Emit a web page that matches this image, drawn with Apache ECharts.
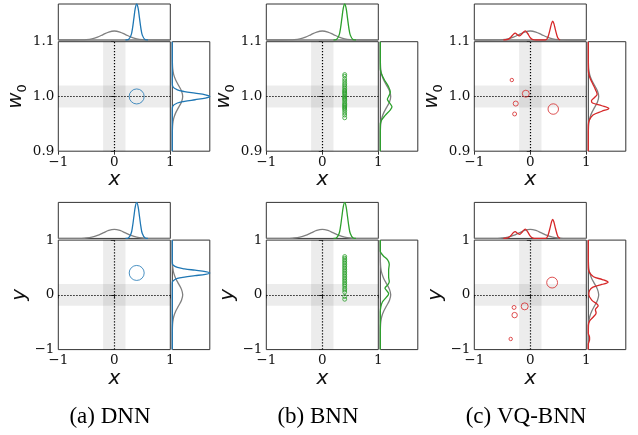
<!DOCTYPE html>
<html><head><meta charset="utf-8">
<script src="https://cdn.jsdelivr.net/npm/echarts@6/dist/echarts.min.js"></script>
<style>html,body{margin:0;padding:0;background:#fff}#c{width:638px;height:435px}</style>
</head><body><div id="c"></div><script>
// ---------- data ----------
const captions = ['(a) DNN', '(b) BNN', '(c) VQ-BNN'];
const rowNames = ['{w|w}{s|0}', '{w|y}'];
const xTickLabels = ['−1', '0', '1'];
const w0TickLabels = ['0.9', '1.0', '1.1'];
const yTickLabels = ['−1', '0', '1'];

// DNN points
const dnnX = [0.4];
const dnnW0 = [1.0];
const dnnY = [0.4];

// BNN samples (all at x = 0.4)
const bnnX = [0.4];
const bnnW0 = [1.040,1.037,1.032,1.028,1.024,1.021,1.018,1.015,1.012,1.010,1.008,1.006,1.004,1.001,0.999,0.997,0.995,0.993,0.990,0.987,0.985,0.983,0.981,0.979,0.977,0.974,0.970,0.966,0.961];
const bnnY = [0.70,0.67,0.64,0.61,0.58,0.55,0.52,0.49,0.46,0.43,0.40,0.37,0.34,0.31,0.28,0.25,0.22,0.19,0.16,0.12,0.09,0.05,-0.03,-0.08];

// VQ-BNN weighted points
const vqX1 = [-0.33, -0.08, -0.26, -0.28, 0.41];
const vqW0 = [1.030, 1.005, 0.987, 0.968, 0.977];
const vqWeight1 = [0.06, 0.25, 0.13, 0.08, 0.56];
const vqX2 = [0.39, -0.10, -0.29, -0.28, -0.35];
const vqY = [0.224, -0.21, -0.23, -0.37, -0.806];
const vqWeight2 = [0.6, 0.25, 0.08, 0.15, 0.06];

// marginal densities: [value, density]
const priorTop = [[-1,0],[-0.7,0.002],[-0.6,0.011],[-0.5,0.044],[-0.4,0.135],[-0.3,0.325],[-0.2,0.607],[-0.1,0.882],[0,1],[0.1,0.882],[0.2,0.607],[0.3,0.325],[0.4,0.135],[0.5,0.044],[0.6,0.011],[0.7,0.002],[1,0]];
const dnnTop = [[0.2,0],[0.25,0.044],[0.3,0.54],[0.325,1.3],[0.35,2.43],[0.375,3.53],[0.4,4.0],[0.425,3.53],[0.45,2.43],[0.475,1.3],[0.5,0.54],[0.55,0.044],[0.6,0]];
const bnnTop = [[0.2,0],[0.25,0.044],[0.3,0.54],[0.325,1.3],[0.35,2.43],[0.375,3.53],[0.4,4.0],[0.425,3.53],[0.45,2.43],[0.475,1.3],[0.5,0.54],[0.55,0.044],[0.6,0]];
const vqTop = [[-0.48,0],[-0.4,0.06],[-0.35,0.3],[-0.3,0.65],[-0.27,0.76],[-0.23,0.58],[-0.19,0.45],[-0.14,0.75],[-0.09,1.02],[-0.05,0.75],[0,0.25],[0.05,0.03],[0.1,0],[0.27,0],[0.31,0.25],[0.35,1.1],[0.38,1.85],[0.4,2.1],[0.42,1.85],[0.45,1.1],[0.49,0.25],[0.53,0]];

// right marginals, [density, value]
const priorW0 = [[0,0.9],[0.002,0.93],[0.011,0.94],[0.044,0.95],[0.135,0.96],[0.325,0.97],[0.607,0.98],[0.882,0.99],[1,1.0],[0.882,1.01],[0.607,1.02],[0.325,1.03],[0.135,1.04],[0.044,1.05],[0.011,1.06],[0.002,1.07],[0,1.1]];
const dnnW0Dens = [[0,0.9],[0,0.975],[0.04,0.982],[0.49,0.988],[1.17,0.991],[2.18,0.994],[3.18,0.997],[3.6,1.0],[3.18,1.003],[2.18,1.006],[1.17,1.009],[0.49,1.012],[0.04,1.018],[0,1.025],[0,1.1]];
const bnnW0Dens = [[0,0.9],[0,0.948],[0.1,0.956],[0.45,0.965],[0.95,0.975],[1.12,0.981],[0.9,0.988],[0.68,0.995],[0.8,1.0],[0.96,1.008],[0.78,1.018],[0.4,1.03],[0.1,1.042],[0,1.05],[0,1.1]];
const vqW0Dens = [[0,0.9],[0,0.948],[0.08,0.956],[0.45,0.966],[1.3,0.973],[1.97,0.978],[1.3,0.983],[0.4,0.988],[0.3,0.992],[0.6,0.998],[0.85,1.004],[0.7,1.012],[0.4,1.024],[0.12,1.036],[0,1.048],[0,1.1]];
const priorY = [[0,-1],[0.002,-0.7],[0.011,-0.6],[0.044,-0.5],[0.135,-0.4],[0.325,-0.3],[0.607,-0.2],[0.882,-0.1],[1,0],[0.882,0.1],[0.607,0.2],[0.325,0.3],[0.135,0.4],[0.044,0.5],[0.011,0.6],[0.002,0.7],[0,1]];
const dnnYDens = [[0,-1],[0,0.22],[0.04,0.25],[0.49,0.3],[1.17,0.325],[2.18,0.35],[3.18,0.375],[3.6,0.4],[3.18,0.425],[2.18,0.45],[1.17,0.475],[0.49,0.5],[0.04,0.55],[0,0.58],[0,1]];
const bnnYDens = [[0,-1],[0,-0.32],[0.05,-0.22],[0.2,-0.13],[0.55,-0.05],[0.8,0.02],[0.6,0.08],[0.45,0.12],[0.7,0.18],[0.86,0.24],[0.8,0.33],[0.8,0.45],[0.86,0.56],[0.7,0.64],[0.3,0.71],[0.05,0.77],[0,0.8],[0,1]];
const vqYDens = [[0,-1],[0,-0.9],[0.12,-0.82],[0.12,-0.78],[0,-0.7],[0,-0.56],[0.12,-0.48],[0.5,-0.4],[0.75,-0.33],[0.68,-0.27],[0.95,-0.2],[0.35,-0.1],[0.05,0.0],[0.12,0.08],[0.45,0.14],[1.3,0.19],[1.9,0.23],[1.35,0.28],[0.5,0.33],[0.08,0.42],[0,0.5],[0,1]];

// ---------- layout / style ----------
const COL = {dnn:'#1f77b4', bnn:'#2ca02c', vq:'#d62728', prior:'#808080'};
const L0 = 58.3, DX = 208, T0 = 41.7, DY = 198.4, MW = 112, MH = 109.5;
const TH = 36, TG = 1.7, RG = 2, RW = 37.5;
const TOPMAX = 4, RIGHTMAX = 3.6;
const SPINE = '#333';
const TICKFONT = '"DejaVu Serif", serif';
const LABELFONT = '"DejaVu Sans", sans-serif';

const grid = [], xAxis = [], yAxis = [], series = [], graphic = [];
const hiddenAxis = {axisLine:{show:false}, axisTick:{show:false}, axisLabel:{show:false}, splitLine:{show:false}};

function zip(xs, ys) {
  return ys.map((v, i) => [xs.length === 1 ? xs[0] : xs[i], v]);
}

const nameRich = {
  w:{fontFamily:LABELFONT, fontStyle:'italic', fontSize:20, color:'#111', lineHeight:22},
  s:{fontFamily:LABELFONT, fontSize:13, color:'#111', verticalAlign:'bottom', lineHeight:22, padding:[0,0,-2,0]}
};

function addPanel(col, row, color, pts, weights, topDens, rightDens) {
  const left = L0 + DX * col, top = T0 + DY * row;
  const gi = grid.length;
  const gStyle = {show:true, borderColor:SPINE, borderWidth:1, backgroundColor:'transparent', containLabel:false};
  grid.push(Object.assign({left, top, width:MW, height:MH}, gStyle));
  grid.push(Object.assign({left, top:top - TG - TH, width:MW, height:TH}, gStyle));
  grid.push(Object.assign({left:left + MW + RG, top, width:RW, height:MH}, gStyle));

  const yr = row === 0 ? {min:0.9, max:1.1, interval:0.1, labels:w0TickLabels, center:1.0, band:0.02}
                       : {min:-1, max:1, interval:1, labels:yTickLabels, center:0, band:0.2};

  // main axes
  xAxis.push({gridIndex:gi, type:'value', min:-1, max:1, interval:1,
    axisLine:{show:false}, splitLine:{show:false},
    axisTick:{show:true, length:3.5, lineStyle:{color:SPINE, width:1}},
    axisLabel:{fontFamily:TICKFONT, fontSize:13.5, color:'#111', margin:4,
      formatter:(v) => xTickLabels[Math.round(v) + 1]},
    name:'x', nameLocation:'middle', nameGap:18,
    nameTextStyle:{fontFamily:LABELFONT, fontStyle:'italic', fontSize:20, color:'#111'}});
  yAxis.push({gridIndex:gi, type:'value', min:yr.min, max:yr.max, interval:yr.interval,
    axisLine:{show:false}, splitLine:{show:false},
    axisTick:{show:true, length:3.5, lineStyle:{color:SPINE, width:1}},
    axisLabel:{fontFamily:TICKFONT, fontSize:13.5, color:'#111', margin:4,
      formatter:(v) => yr.labels[Math.round((v - yr.min) / yr.interval)]},
    name:rowNames[row], nameLocation:'middle', nameGap:28, nameRotate:90,
    nameTextStyle:{rich:nameRich}});
  // top marginal axes
  xAxis.push(Object.assign({gridIndex:gi + 1, type:'value', min:-1, max:1}, hiddenAxis));
  yAxis.push(Object.assign({gridIndex:gi + 1, type:'value', min:0, max:TOPMAX}, hiddenAxis));
  // right marginal axes
  xAxis.push(Object.assign({gridIndex:gi + 2, type:'value', min:0, max:RIGHTMAX}, hiddenAxis));
  yAxis.push(Object.assign({gridIndex:gi + 2, type:'value', min:yr.min, max:yr.max}, hiddenAxis));

  // bands + dotted lines
  series.push({type:'line', xAxisIndex:gi, yAxisIndex:gi, data:[], silent:true,
    markArea:{silent:true, itemStyle:{color:'rgba(0,0,0,0.075)'},
      data:[[{xAxis:-0.2},{xAxis:0.2}], [{yAxis:yr.center - yr.band},{yAxis:yr.center + yr.band}]]},
    markLine:{silent:true, symbol:'none', label:{show:false},
      lineStyle:{color:'#000', type:[1.3,1.7], width:1.2},
      data:[{xAxis:0},{yAxis:yr.center}]}});
  // points
  series.push({type:'scatter', xAxisIndex:gi, yAxisIndex:gi, silent:true, z:5,
    data:pts.map((p, i) => ({value:p, symbolSize: weights ? 14 * Math.sqrt(weights[i]) : 15})),
    symbol:'circle',
    itemStyle:{color:'rgba(0,0,0,0)', borderColor:color, borderWidth:1}});
  // marginals
  const ls = (c) => ({color:c, width:1.3});
  series.push({type:'line', xAxisIndex:gi + 1, yAxisIndex:gi + 1, data:priorTop, smooth:0.35, showSymbol:false, lineStyle:ls(COL.prior), silent:true});
  series.push({type:'line', xAxisIndex:gi + 1, yAxisIndex:gi + 1, data:topDens, smooth:0.35, showSymbol:false, lineStyle:ls(color), silent:true});
  series.push({type:'line', xAxisIndex:gi + 2, yAxisIndex:gi + 2, data:row === 0 ? priorW0 : priorY, smooth:0.35, showSymbol:false, lineStyle:ls(COL.prior), silent:true});
  series.push({type:'line', xAxisIndex:gi + 2, yAxisIndex:gi + 2, data:rightDens, smooth:0.35, showSymbol:false, lineStyle:ls(color), silent:true});
}

addPanel(0, 0, COL.dnn, zip(dnnX, dnnW0), null, dnnTop, dnnW0Dens);
addPanel(1, 0, COL.bnn, zip(bnnX, bnnW0), bnnW0.map(() => 0.08), bnnTop, bnnW0Dens);
addPanel(2, 0, COL.vq, zip(vqX1, vqW0), vqWeight1, vqTop, vqW0Dens);
addPanel(0, 1, COL.dnn, zip(dnnX, dnnY), null, dnnTop, dnnYDens);
addPanel(1, 1, COL.bnn, zip(bnnX, bnnY), bnnY.map(() => 0.08), bnnTop, bnnYDens);
addPanel(2, 1, COL.vq, zip(vqX2, vqY), vqWeight2, vqTop, vqYDens);

captions.forEach((t, i) => {
  graphic.push({type:'text', x:110 + DX * i, y:417, silent:true,
    style:{text:t, fill:'#000', font:'23px "Liberation Serif"', textAlign:'center', textVerticalAlign:'middle'}});
});

const chart = echarts.init(document.getElementById('c'), null, {renderer:'canvas'});
chart.setOption({animation:false, backgroundColor:'#fff', grid, xAxis, yAxis, series, graphic});
</script></body></html>
